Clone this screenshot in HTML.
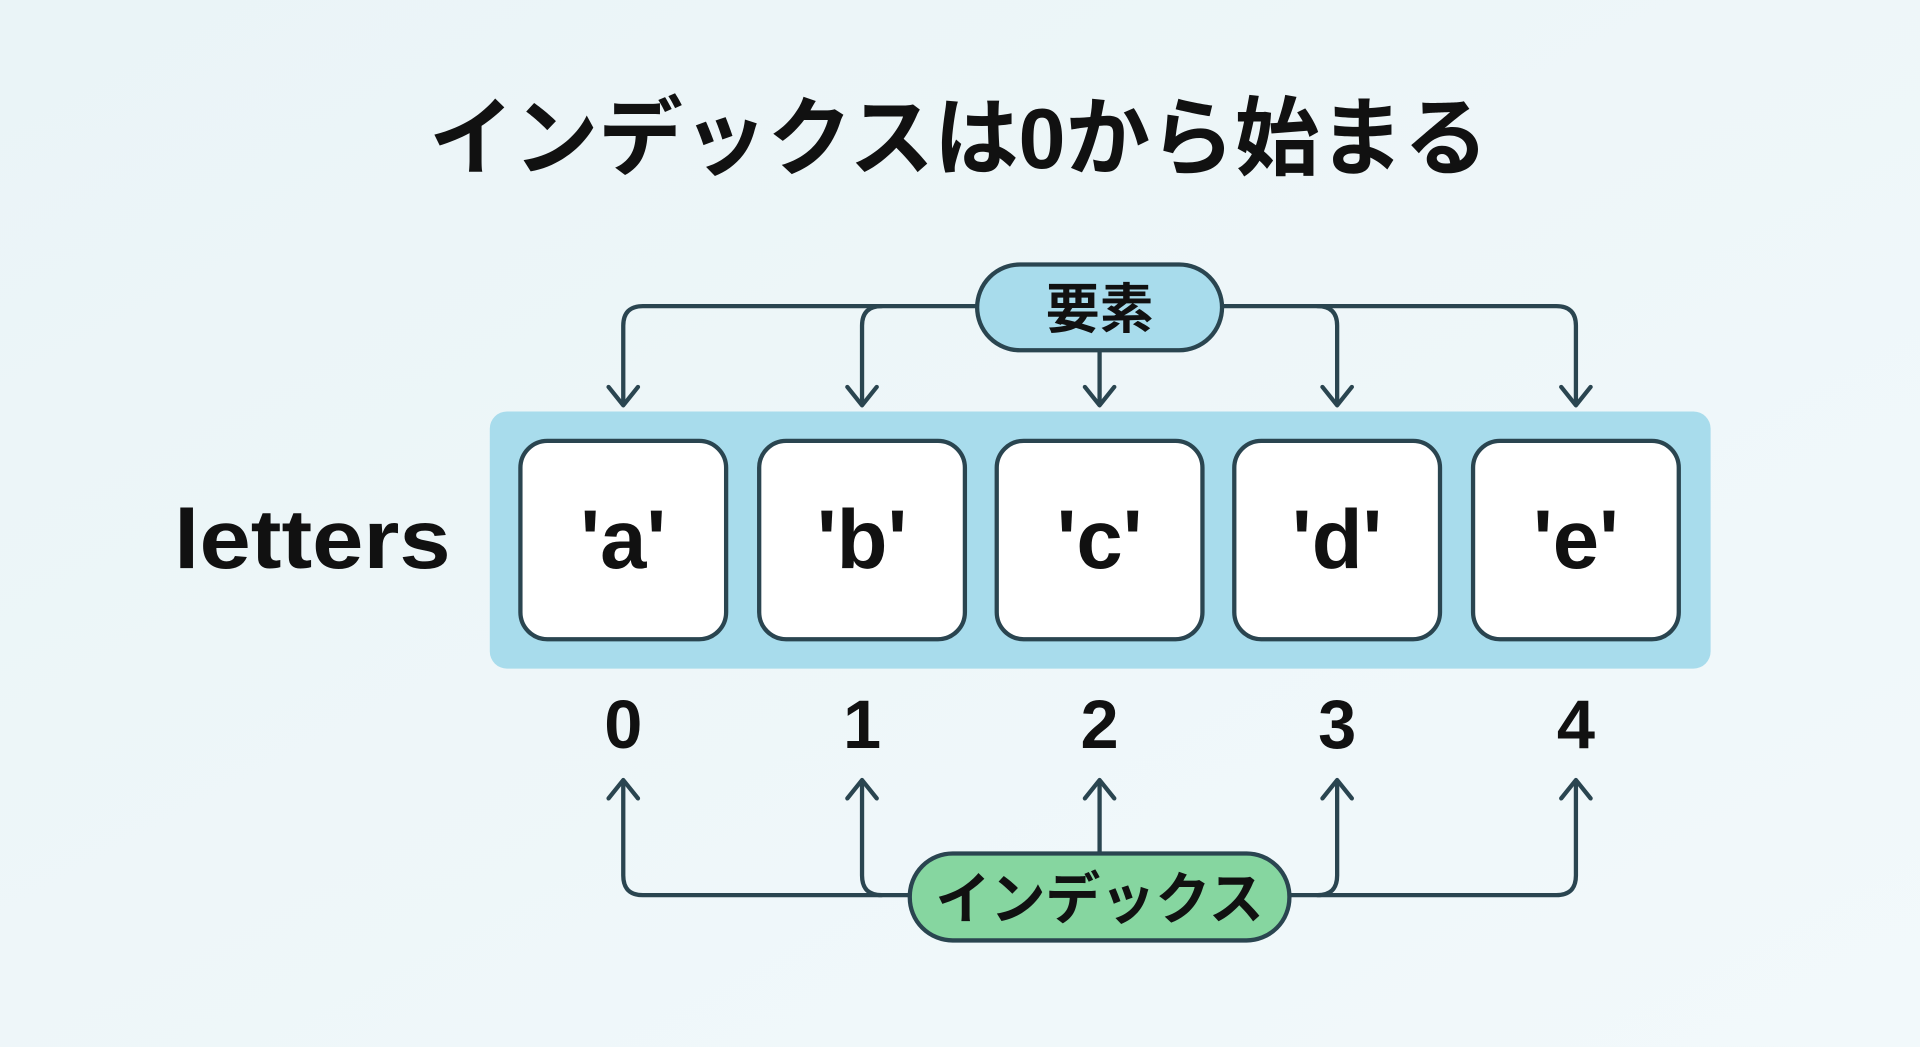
<!DOCTYPE html>
<html><head><meta charset="utf-8"><style>
html,body{margin:0;padding:0;width:1920px;height:1047px;overflow:hidden;background:#eef6f8}
svg{display:block}
text{font-family:"Liberation Sans","Noto Sans CJK JP",sans-serif;font-weight:bold;fill:#111;text-anchor:middle}
</style></head><body>
<svg width="1920" height="1047" viewBox="0 0 1568 855">
<defs><linearGradient id="bg" x1="0" y1="0" x2="1" y2="1"><stop offset="0" stop-color="#eaf4f7"/><stop offset="1" stop-color="#f2f9fb"/></linearGradient></defs>
<rect width="1568" height="855" fill="url(#bg)"/>
<text x="783" y="137" font-size="70" textLength="865" lengthAdjust="spacingAndGlyphs">インデックスは0から始まる</text>
<g fill="none" stroke="#2a4550" stroke-width="3.5" stroke-linecap="round" stroke-linejoin="round">
<path d="M800 250 H525 Q509 250 509 266 V330"/>
<path d="M720 250 Q704 250 704 266 V330"/>
<path d="M898 286 V330"/>
<path d="M996 250 H1271 Q1287 250 1287 266 V330"/>
<path d="M1076 250 Q1092 250 1092 266 V330"/>
<path d="M497 316 L509 331 L521 316 M692 316 L704 331 L716 316 M886 316 L898 331 L910 316 M1080 316 L1092 331 L1104 316 M1275 316 L1287 331 L1299 316"/>
<path d="M745 731 H525 Q509 731 509 715 V638"/>
<path d="M720 731 Q704 731 704 715 V638"/>
<path d="M898 697 V638"/>
<path d="M1051 731 H1271 Q1287 731 1287 715 V638"/>
<path d="M1076 731 Q1092 731 1092 715 V638"/>
<path d="M497 652 L509 637 L521 652 M692 652 L704 637 L716 652 M886 652 L898 637 L910 652 M1080 652 L1092 637 L1104 652 M1275 652 L1287 637 L1299 652"/>
</g>
<rect x="400" y="336" width="997" height="210" rx="14" fill="#a8dcec"/>
<g fill="#fff" stroke="#2a4550" stroke-width="3.5">
<rect x="425" y="360" width="168" height="162" rx="22"/>
<rect x="620" y="360" width="168" height="162" rx="22"/>
<rect x="814" y="360" width="168" height="162" rx="22"/>
<rect x="1008" y="360" width="168" height="162" rx="22"/>
<rect x="1203" y="360" width="168" height="162" rx="22"/>
<rect x="798" y="216" width="200" height="70" rx="35" fill="#a8dcec"/>
<rect x="743" y="697" width="310" height="71" rx="35" fill="#86d6a0"/>
</g>
<g font-size="68">
<text x="509" y="464">'a'</text><text x="704" y="464">'b'</text><text x="898" y="464">'c'</text><text x="1092" y="464">'d'</text><text x="1287" y="464">'e'</text>
<text x="255" y="464" textLength="226" lengthAdjust="spacingAndGlyphs">letters</text>
</g>
<g font-size="56">
<text x="509" y="611">0</text><text x="704" y="611">1</text><text x="898" y="611">2</text><text x="1092" y="611">3</text><text x="1287" y="611">4</text>
</g>
<text x="898" y="268" font-size="44">要素</text>
<text x="898" y="750" font-size="46" textLength="268" lengthAdjust="spacingAndGlyphs">インデックス</text>
</svg>
</body></html>
